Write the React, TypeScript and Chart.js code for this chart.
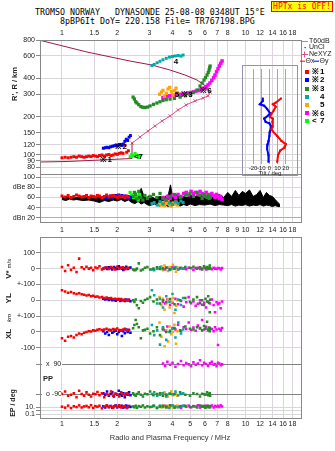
import React, { useEffect, useRef } from 'react';
import { Chart, registerables } from 'chart.js';

Chart.register(...registerables);

const FONT = "'Liberation Sans', Arial, Helvetica, sans-serif";
const MONO = "'DejaVu Sans Mono', 'Liberation Mono', monospace";

// ---------------- axes ----------------
const FREQ_MIN = 0.759;
const FREQ_MAX = 20.3;
const freqTicksTop = [1, 1.5, 2, 3, 4, 5, 6, 7, 8, 10, 12, 14, 16, 18];
const freqTicksMid = [1, 1.5, 2, 3, 4, 5, 6, 7, 8, 9, 10, 12, 14, 16, 18];
const heightTicks = [80, 90, 100, 120, 150, 200, 300, 400, 600, 800];
const dbTicks = [20, 40, 60, 80, 100];
const dbLabels = ['dBn 20', '40', '60', 'dBe 80', '100'];
const tiltTicks = [-20, -10, 0, 10, 20];

// ---------------- trace 1 (red) ----------------
const redFreq = [1.00, 1.04, 1.08, 1.12, 1.16, 1.20, 1.24, 1.28, 1.32, 1.36, 1.40, 1.44, 1.48, 1.52, 1.56, 1.60, 1.65, 1.70, 1.75, 1.80, 1.85, 1.90, 1.95, 2.00, 2.05, 2.10, 2.15, 2.20, 2.25, 2.30];
const redHeight = [95, 96, 95, 96, 97, 96, 98, 97, 96, 97, 98, 97, 99, 98, 97, 99, 100, 98, 100, 101, 99, 100, 102, 101, 103, 104, 103, 119, 105, 108];
const redDB = [63, 61, 64, 60, 62, 65, 63, 61, 62, 64, 60, 63, 62, 61, 64, 63, 60, 62, 65, 61, 63, 64, 62, 60, 63, 61, 62, 60, 63, 61];
const redV = [10, -15, 21, -8, 5, -21, 63, 8, -3, 12, 0, 5, -10, 7, 2, 15, -5, 3, 8, -2, 10, 4, -6, 12, 0, 6, 9, -4, 3, 5];
const redYL = [63, 55, 48, 52, 44, 40, 45, 38, 35, 30, 33, 26, 28, 22, 24, 18, 20, 15, 17, 12, 14, 8, 10, 6, 4, 8, 2, 5, 0, 3];
const redXL = [-40, -55, -30, -25, -35, -19, -10, -15, -5, 0, 5, 3, 10, 8, 13, 17, 12, 15, 20, 13, 10, 18, 15, 22, 12, 8, 15, 20, 10, 14];
const redPP = [-90, -75, -100, -95, -85, -110, -70, -90, -100, -80, -95, -105, -88, -92, -78, -98, -85, -110, -90, -95, -75, -100, -88, -93, -105, -80, -92, -97, -85, -90];
const redEP = [15, 8, 30, 6, 20, 12, 35, 9, 18, 25, 10, 40, 7, 22, 14, 28, 5, 16, 33, 11, 20, 8, 26, 13, 38, 9, 17, 24, 6, 19];

// ---------------- trace 2 (blue) ----------------
const blueFreq = [1.68, 1.72, 1.76, 1.80, 1.84, 1.88, 1.92, 1.96, 2.00, 2.04, 2.08, 2.12, 2.16, 2.20, 2.24, 2.28, 2.32, 2.36];
const blueHeight = [113, 114, 115, 114, 116, 117, 118, 119, 118, 120, 121, 119, 122, 128, 133, 130, 138, 142];
const blueDB = [60, 62, 59, 61, 63, 60, 62, 64, 63, 65, 62, 64, 61, 63, 60, 62, 58, 60];
const blueV = [0, 5, -3, 8, 2, -5, 10, 3, -2, 15, 6, 0, -8, 4, 12, -3, 2, 7];
const blueYL = [10, 5, 8, 2, 6, 0, 4, -3, 3, 8, -5, 2, 0, -4, 5, -2, 3, -6];
const blueXL = [5, -10, 0, -19, 12, -5, 3, 8, -15, 0, 10, -25, 5, -8, 15, 0, 12, -5];
const bluePP = [-85, -95, -75, -100, -90, -80, -105, -88, -95, -70, -92, -100, -85, -110, -90, -95, -80, -98];
const blueEP = [20, 9, 30, 12, 25, 7, 18, 35, 10, 22, 14, 28, 8, 16, 32, 11, 24, 13];

// ---------------- trace 3 (green) ----------------
const greenFreq = [2.44, 2.48, 2.52, 2.56, 2.62, 2.69, 2.76, 2.83, 2.92, 3.02, 3.15, 3.29, 3.42, 3.55, 3.70, 3.88, 4.10, 4.40, 4.70, 4.98, 5.20, 5.44, 5.65, 5.80, 5.94, 6.05, 6.17, 6.26, 6.33, 6.38, 6.41];
const greenHeight = [285, 275, 262, 256, 248, 240, 237, 236, 238, 243, 250, 256, 262, 268, 272, 275, 278, 285, 292, 301, 310, 324, 348, 368, 388, 405, 425, 445, 465, 485, 500];
const greenDB = [62, 70, 66, 58, 72, 60, 55, 64, 58, 62, 66, 60, 68, 58, 55, 62, 66, 60, 65, 68, 62, 70, 64, 58, 66, 62, 60, 65, 58, 62, 60];
const greenV = [-5, -10, -8, 0, 33, -12, -6, 5, 10, -5, 0, 8, -3, 2, 6, -4, 0, 3, 10, 5, 12, 0, 8, -6, 15, 4, 10, -2, 6, 20, 3];
const greenYL = [0, -10, 5, -32, -50, -5, -15, 2, 10, 20, -8, 5, -20, 0, -12, 8, -25, 0, 15, -10, 5, 20, -18, 0, -30, 10, -8, 25, -15, -75, 3];
const greenXL = [23, 44, 76, 50, 30, -40, 10, 13, 20, -10, 5, 30, -20, 15, 0, 8, 25, 10, 35, 20, 15, 30, 25, 10, 38, 20, 65, 15, 28, 5, 18];
const greenPP = [-85, -95, -100, -90, -80, -95, -105, -88, -92, -75, -98, -90, -85, -100, -95, -88, -92, -80, -95, -100, -85, -90, -105, -88, -92, -95, -80, -98, -90, -85, -100];
const greenEP = [18, 10, 28, 7, 22, 14, 35, 9, 20, 12, 30, 6, 16, 25, 11, 38, 8, 19, 27, 13, 21, 9, 33, 15, 24, 7, 18, 29, 12, 20, 10];

// ---------------- trace 4 (teal) ----------------
const tealFreq = [3.09, 3.18, 3.30, 3.42, 3.55, 3.70, 3.85, 4.00, 4.15, 4.30, 4.45, 4.57];
const tealHeight = [505, 515, 530, 545, 560, 575, 588, 595, 600, 605, 598, 610];
const tealDB = [48, 50, 45, 52, 47, 55, 49, 46, 51, 48, 53, 50];
const tealV = [-5, -10, 0, 8, -3, 5, -8, 2, 10, -6, 3, 0];
const tealYL = [63, 32, -20, 10, -45, 25, -10, 40, -60, 5, -30, 15];
const tealXL = [44, -20, 10, -80, 30, -50, 0, 20, -35, 60, -10, 15];
const tealPP = [-90, -80, -100, -95, -85, -105, -88, -92, -75, -98, -90, -85];
const tealEP = [14, 25, 8, 30, 12, 20, 6, 35, 16, 10, 22, 28];

// ---------------- trace 5 (orange) ----------------
const orangeFreq = [3.40, 3.48, 3.55, 3.62, 3.70, 3.78, 3.86, 3.94, 4.02, 4.10, 4.18, 4.25];
const orangeHeight = [300, 312, 322, 290, 305, 330, 340, 315, 295, 320, 335, 310];
const orangeDB = [47, 45, 50, 44, 48, 52, 46, 43, 49, 47, 51, 45];
const orangeV = [0, 15, -10, 20, 5, -15, 10, -5, 25, 0, -20, 8];
const orangeYL = [20, -30, 10, -60, -20, 5, -45, -10, 15, -80, -35, 0];
const orangeXL = [60, -30, 20, -90, 10, -60, 35, -15, 0, 45, -75, 5];
const orangePP = [-95, -85, -100, -80, -92, -105, -88, -75, -98, -90, -85, -100];
const orangeEP = [20, 10, 32, 14, 7, 26, 18, 38, 9, 24, 12, 30];

// ---------------- trace 6 (magenta) ----------------
const magFreq = [3.55, 3.65, 3.75, 3.88, 4.0, 4.15, 4.29, 4.45, 4.60, 4.75, 4.90, 5.05, 5.20, 5.35, 5.50, 5.65, 5.80, 5.95, 6.10, 6.25, 6.40, 6.55, 6.70, 6.82, 6.95, 7.08, 7.20, 7.32, 7.45];
const magHeight = [282, 287, 290, 292, 294, 296, 298, 300, 302, 304, 307, 310, 313, 316, 320, 324, 330, 336, 345, 355, 368, 385, 405, 425, 450, 475, 500, 525, 548];
const magDB = [60, 55, 62, 58, 64, 60, 66, 62, 68, 70, 65, 72, 68, 70, 66, 72, 68, 64, 70, 66, 62, 68, 64, 60, 66, 62, 58, 62, 56];
const magV = [0, -5, 5, -3, 8, 2, -6, 4, 0, -4, 6, 2, -8, 3, 5, -2, 0, 7, -5, 3, 1, -4, 6, 0, -3, 4, 2, -6, 3];
const magYL = [-10, -20, 5, -30, -15, 10, -25, -5, -40, -12, 20, -18, -8, -35, -22, 0, -28, -15, -45, -10, -20, 5, -30, -75, -12, -25, -18, -50, -8];
const magXL = [20, 10, 35, 0, 25, 15, 45, 5, 30, 18, 60, 12, 28, 8, 40, 22, 76, 15, 32, 10, 25, 18, 5, 30, 15, -82, 20, 10, 25];
const magPP = [95, 80, 105, 88, 100, 75, 92, 110, 85, 98, 90, 78, 102, 88, 95, 115, 84, 100, 92, 80, 96, 105, 88, 92, 78, 100, 95, 85, 90];
const magEP = [16, 28, 9, 22, 35, 12, 19, 7, 26, 14, 31, 10, 21, 17, 38, 8, 24, 13, 29, 11, 20, 33, 9, 25, 15, 27, 12, 36, 18];

// ---------------- trace 7 (lime) ----------------
const limeFreq = [2.35, 2.40, 2.45, 2.50, 2.55, 2.60, 2.65];
const limeHeight = [97, 101, 98, 103, 100, 96, 99];
const limeDB = [70, 65, 60, 68, 62, 55, 66];

// ---------------- noise (black) ----------------
const noiseFreq = [1.0, 1.05, 1.1, 1.15, 1.2, 1.3, 1.4, 1.5, 1.6, 1.7, 1.8, 1.9, 2.0, 2.1, 2.2, 2.3, 2.4, 2.5, 2.6, 2.7, 2.8, 2.9, 3.0, 3.2, 3.4, 3.6, 3.8, 3.9, 4.0, 4.2, 4.4, 4.6, 4.8, 5.0, 5.3, 5.6, 6.0, 6.4, 6.8, 7.2, 7.6, 8.0, 8.4, 8.8, 9.2, 9.6, 10.0, 10.5, 11.0, 11.5, 12.0, 12.5, 13.0, 13.5, 14.0, 14.5, 15.0, 15.4];
const noiseLow = [56, 54, 57, 55, 56, 54, 55, 53, 50, 54, 52, 55, 53, 56, 52, 55, 50, 48, 52, 47, 50, 46, 44, 47, 43, 46, 42, 45, 44, 47, 43, 46, 44, 47, 44, 46, 45, 47, 44, 46, 45, 44, 46, 43, 45, 44, 46, 43, 45, 44, 46, 43, 45, 44, 42, 44, 42, 42];
const noiseHigh = [60, 62, 59, 61, 60, 62, 59, 61, 60, 62, 60, 63, 61, 64, 60, 62, 66, 60, 64, 78, 62, 60, 64, 58, 62, 60, 66, 85, 62, 66, 58, 62, 60, 64, 62, 66, 60, 64, 62, 66, 60, 70, 62, 74, 64, 72, 68, 75, 62, 66, 74, 60, 70, 64, 62, 56, 50, 46];

// ---------------- profile lines ----------------
const lowLineFreq = [0.759, 1.065, 1.611, 2.407, 2.407];
const lowLineHeight = [88.1, 88.9, 91.3, 93.9, 124.2];
const neFreq = [2.41, 2.66, 2.94, 3.21, 3.51, 3.88, 4.29, 4.74, 5.31, 5.87, 6.25, 6.41, 6.17];
const neHeight = [124, 138.5, 154, 169, 185, 202.5, 226, 247, 266, 280, 291, 312, 330];
const topFreq = [6.17, 5.94, 5.44, 4.68, 3.88, 3.09, 2.35, 1.37, 0.788, 0.76];
const topHeight = [330, 355, 388, 425, 465, 509, 547, 644, 786, 795];

// ---------------- tilt inset ----------------
const thetaXHeight = [292, 270, 262, 250, 233, 219, 206, 200, 188, 172, 164, 157, 144, 131, 123.5, 116, 109.5, 100, 88.6];
const thetaX = [14.2, 7.8, 4.3, 7.8, 5.3, 2.5, 0.7, 4.3, 3.6, 4.3, 2.5, 4.3, 9.6, 14.9, 20.2, 18.5, 13.2, 10.6, 9.6];
const thetaYHeight = [292, 279, 262, 255, 240, 222, 213, 200, 188, 183, 172, 157, 144, 131, 123.5, 113, 100, 88.6];
const thetaY = [-8.1, -8.1, -11.7, -6.4, -2.8, 0.7, -1.1, -6.4, -4.6, 0, 2.5, 0.7, 0, -1.1, -2.1, -2.8, -1.1, -1.1];

// ---------------- trace labels ----------------
const annotText = ['※1', '※2', '<7', '4', '5', '※3', '※6'];
const annotFreq = [1.74, 2.10, 2.61, 4.18, 4.23, 4.80, 6.09];
const annotHeight = [91, 117, 96, 540, 296, 296, 318];

const legendSym = ['※', '※', '※', '', '', '※', '<'];
const legendNum = ['1', '2', '3', '4', '5', '6', '7'];

const RED = '#ff0000', BLUE = '#0000ff', GREEN = '#228b22', TEAL = '#00a8a8', ORANGE = '#ffa500', MAGENTA = '#ff00ff', LIME = '#00ff00';
const legendColors = [RED, BLUE, GREEN, TEAL, ORANGE, MAGENTA, LIME];
const MAROON = '#a01848';
const PINK = '#e0508a';
const GRID = '#d8d8d8';
const VGRID = '#dcd4dc';
const BORDER = '#888888';
const TICK = '#1a1a1a';

const tickFont = { family: FONT, size: 7 };

function xy(xs: number[], ys: number[]) {
  return xs.map((x, i) => ({ x, y: ys[i] }));
}

function dots(xs: number[], ys: number[], color: string, yAxisID: string, r = 1.9): any {
  return {
    type: 'scatter', data: xy(xs, ys), xAxisID: 'x', yAxisID,
    pointStyle: 'rect', pointRadius: r, pointBorderWidth: 0,
    pointBackgroundColor: color, backgroundColor: color, borderColor: color,
    showLine: false, order: 1,
  };
}

function freqAxis(position: string, ticks: number[], height: number, padding: number, grid: boolean): any {
  return {
    type: 'logarithmic', position, min: FREQ_MIN, max: FREQ_MAX,
    afterBuildTicks: (s: any) => { s.ticks = ticks.map((v) => ({ value: v })); },
    afterFit: (s: any) => { s.height = height; },
    ticks: { font: tickFont, color: TICK, padding, autoSkip: false, maxRotation: 0, minRotation: 0, callback: (v: any) => String(v) },
    grid: { display: grid, color: VGRID, drawTicks: false },
    border: { display: false },
  };
}

function yAxis(opts: any, ticks: number[], label: (v: number) => string, gridColor: any, weight: number, stackWeight: number, stack: string): any {
  return Object.assign({
    position: 'left', stack, stackWeight, weight,
    afterBuildTicks: (s: any) => { s.ticks = ticks.map((v) => ({ value: v })); },
    afterFit: (s: any) => { s.width = 40; },
    ticks: { font: tickFont, color: TICK, padding: 1, autoSkip: false, callback: (v: any) => label(Number(v)) },
    grid: { color: gridColor, tickLength: 4, tickColor: BORDER },
    border: { color: BORDER },
  }, opts);
}

function vtext(ctx: CanvasRenderingContext2D, text: string, x: number, y: number, font: string) {
  ctx.save();
  ctx.translate(x, y);
  ctx.rotate(-Math.PI / 2);
  ctx.font = font;
  ctx.textAlign = 'center';
  ctx.textBaseline = 'middle';
  ctx.fillText(text, 0, 0);
  ctx.restore();
}

const OFF_A = 26;
const OFF_B = 232;

const pluginA = {
  id: 'panelA',
  afterDraw(chart: any) {
    const ctx: CanvasRenderingContext2D = chart.ctx;
    const { left, right } = chart.chartArea;
    ctx.save();
    ctx.strokeStyle = BORDER;
    ctx.lineWidth = 1;
    ['yH', 'yDB'].forEach((id) => {
      const s = chart.scales[id];
      ctx.strokeRect(Math.round(left) + 0.5, Math.round(s.top) + 0.5, Math.round(right - left) - 1, Math.round(s.bottom - s.top));
    });
    // annotations
    const xs = chart.scales.x, yh = chart.scales.yH;
    ctx.fillStyle = '#000';
    ctx.font = `bold 8px ${FONT}`;
    ctx.textAlign = 'center';
    ctx.textBaseline = 'middle';
    annotText.forEach((t, i) => {
      ctx.fillText(t, xs.getPixelForValue(annotFreq[i]), yh.getPixelForValue(annotHeight[i]));
    });
    // y title
    ctx.fillStyle = '#222';
    vtext(ctx, "R', R / km", 15, 84 - OFF_A, `bold 7.5px ${FONT}`);
    // legend
    ctx.textAlign = 'left';
    ctx.textBaseline = 'middle';
    ctx.font = `7px ${FONT}`;
    ctx.fillStyle = '#222';
    let y = 41 - OFF_A;
    ctx.strokeStyle = '#999';
    ctx.beginPath(); ctx.moveTo(302, y + 0.5); ctx.lineTo(308, y + 0.5); ctx.stroke();
    ctx.fillText('T60dB', 309, y);
    y = 47.5 - OFF_A;
    ctx.fillRect(304.5, y - 0.5, 1.2, 1.2);
    ctx.fillText('UnCl', 309, y);
    y = 54 - OFF_A;
    ctx.strokeStyle = PINK;
    ctx.beginPath(); ctx.moveTo(301, y + 0.5); ctx.lineTo(308, y + 0.5); ctx.moveTo(304.5, y - 2.5); ctx.lineTo(304.5, y + 3.5); ctx.stroke();
    ctx.fillText('NeXYZ', 309, y);
    y = 60.7 - OFF_A;
    ctx.strokeStyle = RED;
    ctx.beginPath(); ctx.moveTo(300, y + 0.5); ctx.lineTo(305, y + 0.5); ctx.stroke();
    ctx.fillText('Θx', 305.5, y);
    ctx.strokeStyle = BLUE;
    ctx.beginPath(); ctx.moveTo(314, y + 0.5); ctx.lineTo(319, y + 0.5); ctx.stroke();
    ctx.fillText('Θy', 319.5, y);
    const ly = [71.7, 80, 88.5, 97, 105, 113.3, 121];
    ctx.font = `bold 8px ${FONT}`;
    ly.forEach((py, i) => {
      const yy = py - OFF_A;
      ctx.fillStyle = legendColors[i];
      ctx.fillRect(305, Math.round(yy) - 2, 4, 4);
      ctx.fillStyle = '#000';
      if (legendSym[i]) ctx.fillText(legendSym[i], 312, yy);
      ctx.fillText(legendNum[i], 320, yy);
    });
    ctx.restore();
  },
};

const pluginB = {
  id: 'panelB',
  afterDraw(chart: any) {
    const ctx: CanvasRenderingContext2D = chart.ctx;
    const { left, right, top, bottom } = chart.chartArea;
    ctx.save();
    ctx.strokeStyle = BORDER;
    ctx.lineWidth = 1;
    ctx.strokeRect(Math.round(left) + 0.5, Math.round(top) + 0.5, Math.round(right - left) - 1, Math.round(bottom - top));
    const pp = chart.scales.yPP;
    const yl = chart.scales.yYL;
    const xl = chart.scales.yXL;
    const vv = chart.scales.yV;
    // inside labels for PP
    ctx.font = `7px ${FONT}`;
    ctx.textBaseline = 'middle';
    ctx.textAlign = 'left';
    const y90 = pp.getPixelForValue(90);
    const ym90 = pp.getPixelForValue(-90);
    ctx.fillStyle = '#fff';
    ctx.fillRect(42, y90 - 4, 20, 8);
    ctx.fillRect(42, ym90 - 4, 20, 8);
    ctx.fillStyle = '#222';
    ctx.fillText('x  90', 46, y90);
    ctx.fillText('o -90', 46, ym90);
    ctx.font = `bold 7.5px ${FONT}`;
    ctx.fillText('PP', 43, pp.getPixelForValue(0));
    // left titles
    vtext(ctx, 'V*', 9, vv.getPixelForValue(0) + 6, `bold 8px ${FONT}`);
    vtext(ctx, 'm/s', 9, vv.getPixelForValue(0) - 5, `6px ${FONT}`);
    vtext(ctx, 'YL', 9, yl.getPixelForValue(0) - 2, `bold 8px ${FONT}`);
    vtext(ctx, 'km', 9, yl.getPixelForValue(-100) + 2, `italic 6px ${FONT}`);
    vtext(ctx, 'XL', 9, xl.getPixelForValue(0) + 2, `bold 8px ${FONT}`);
    vtext(ctx, 'EP / deg', 13, 403 - OFF_B, `bold 7px ${FONT}`);
    // x title
    ctx.font = `7.5px ${FONT}`;
    ctx.textAlign = 'center';
    ctx.fillStyle = '#333';
    ctx.fillText('Radio and Plasma Frequency / MHz', 170, 438 - OFF_B);
    ctx.restore();
  },
};

const pluginC = {
  id: 'panelC',
  afterDraw(chart: any) {
    const ctx: CanvasRenderingContext2D = chart.ctx;
    ctx.save();
    ctx.strokeStyle = '#9890b0';
    ctx.lineWidth = 1;
    ctx.strokeRect(0.5, 0.5, 55, 110);
    ctx.fillStyle = '#222';
    ctx.font = `6px ${FONT}`;
    ctx.textAlign = 'center';
    ctx.textBaseline = 'middle';
    ctx.fillText('Tilt / deg', 28, 108.5);
    ctx.restore();
  },
};

const baseOpts = {
  animation: false,
  responsive: false,
  devicePixelRatio: 1,
  events: [],
  plugins: { legend: { display: false }, tooltip: { enabled: false } },
};

function configA(): any {
  const datasets: any[] = [
    { type: 'line', data: xy(noiseFreq, noiseHigh), xAxisID: 'x', yAxisID: 'yDB', borderColor: '#000', backgroundColor: '#000', borderWidth: 1, pointRadius: 0, fill: '+1', order: 10 },
    { type: 'line', data: xy(noiseFreq, noiseLow), xAxisID: 'x', yAxisID: 'yDB', borderColor: '#000', backgroundColor: '#000', borderWidth: 1, pointRadius: 0, fill: false, order: 10 },
    { type: 'line', data: xy(lowLineFreq, lowLineHeight), xAxisID: 'x', yAxisID: 'yH', borderColor: MAROON, borderWidth: 1, pointRadius: 0, fill: false, order: 5 },
    { type: 'line', data: xy(topFreq, topHeight), xAxisID: 'x', yAxisID: 'yH', borderColor: MAROON, borderWidth: 1, pointRadius: 0, fill: false, order: 5 },
    { type: 'line', data: xy(neFreq, neHeight), xAxisID: 'x', yAxisID: 'yH', borderColor: PINK, borderWidth: 1, pointStyle: 'crossRot', pointRadius: 2.2, pointBorderColor: PINK, pointBorderWidth: 1, fill: false, order: 5 },
    dots(redFreq, redHeight, RED, 'yH', 2.1),
    dots(blueFreq, blueHeight, BLUE, 'yH', 2.1),
    dots(greenFreq, greenHeight, GREEN, 'yH', 2.3),
    dots(tealFreq, tealHeight, TEAL, 'yH', 2.1),
    dots(orangeFreq, orangeHeight, ORANGE, 'yH', 2.3),
    dots(magFreq, magHeight, MAGENTA, 'yH', 2.5),
    dots(limeFreq, limeHeight, LIME, 'yH', 2.1),
    dots(redFreq, redDB, RED, 'yDB', 2.1),
    dots(blueFreq, blueDB, BLUE, 'yDB', 2.1),
    dots(greenFreq, greenDB, GREEN, 'yDB', 2.3),
    dots(tealFreq, tealDB, TEAL, 'yDB', 2.1),
    dots(orangeFreq, orangeDB, ORANGE, 'yDB', 2.3),
    dots(magFreq, magDB, MAGENTA, 'yDB', 2.5),
    dots(limeFreq, limeDB, LIME, 'yDB', 2.3),
  ];
  return {
    type: 'scatter',
    data: { datasets },
    options: {
      ...baseOpts,
      layout: { padding: { left: 0, right: 33, top: 0, bottom: 0 } },
      scales: {
        xTop: freqAxis('top', freqTicksTop, 14, 3, true),
        x: freqAxis('bottom', freqTicksMid, 14, 4, false),
        yH: yAxis({ type: 'logarithmic', min: 70.9, max: 800.6 }, heightTicks, (v) => String(v), GRID, 2, 134, 'a'),
        yDB: yAxis({ type: 'linear', min: 11.5, max: 106.5 }, dbTicks,
          (v) => dbLabels[dbTicks.indexOf(v)] ?? '',
          (c: any) => (c.tick && c.tick.value === 20 ? '#a8a8f0' : GRID), 1, 48, 'a'),
      },
    },
    plugins: [pluginA],
  };
}

function configB(): any {
  const traces: [number[], string, number[], number[], number[], number[], number[]][] = [
    [redFreq, RED, redV, redYL, redXL, redPP, redEP],
    [blueFreq, BLUE, blueV, blueYL, blueXL, bluePP, blueEP],
    [greenFreq, GREEN, greenV, greenYL, greenXL, greenPP, greenEP],
    [tealFreq, TEAL, tealV, tealYL, tealXL, tealPP, tealEP],
    [orangeFreq, ORANGE, orangeV, orangeYL, orangeXL, orangePP, orangeEP],
    [magFreq, MAGENTA, magV, magYL, magXL, magPP, magEP],
  ];
  const datasets: any[] = [];
  traces.forEach(([f, c, v, yl, xl, pp, ep]) => {
    datasets.push(dots(f, v, c, 'yV', 1.8));
    datasets.push(dots(f, yl, c, 'yYL', 1.8));
    datasets.push(dots(f, xl, c, 'yXL', 1.8));
    datasets.push(dots(f, pp, c, 'yPP', 1.8));
    datasets.push(dots(f, ep, c, 'yEP', 1.8));
  });
  return {
    type: 'scatter',
    data: { datasets },
    options: {
      ...baseOpts,
      layout: { padding: { left: 0, right: 33, top: 5, bottom: 0 } },
      scales: {
        x: freqAxis('bottom', freqTicksTop, 33, 2, true),
        yV: yAxis({ type: 'linear', min: -100, max: 198.4 }, [100, 0, -100], (v) => (v === -100 ? '+-100' : String(v)), GRID, 5, 47.3, 'b'),
        yYL: yAxis({ type: 'linear', min: -100, max: 100 }, [100, 0, -100], (v) => (v === 0 ? '0' : v === -100 ? '+-100' : ''), GRID, 4, 31.7, 'b'),
        yXL: yAxis({ type: 'linear', min: -100, max: 100 }, [100, 0, -100], (v) => (v === 0 ? '0' : v === -100 ? '-100' : ''), GRID, 3, 31.7, 'b'),
        yPP: Object.assign(yAxis({ type: 'linear', min: -126.4, max: 190.6 }, [90, -90], () => '', '#808080', 2, 52.3, 'b'), {}),
        yEP: yAxis({ type: 'logarithmic', min: 0.00877, max: 1219 }, [10, 1, 0.1],
          (v) => (Math.abs(v - 10) < 1e-6 ? '10.' : Math.abs(v - 0.1) < 1e-6 ? '0.1' : ''), GRID, 1, 18, 'b'),
      },
    },
    plugins: [pluginB],
  };
}

function configC(): any {
  return {
    type: 'scatter',
    data: {
      datasets: [
        { data: xy(thetaX, thetaXHeight), showLine: true, borderColor: RED, borderWidth: 2, pointStyle: 'rect', pointRadius: 1.4, pointBackgroundColor: RED, pointBorderWidth: 0 },
        { data: xy(thetaY, thetaYHeight), showLine: true, borderColor: BLUE, borderWidth: 2, pointStyle: 'rect', pointRadius: 1.4, pointBackgroundColor: BLUE, pointBorderWidth: 0 },
      ],
    },
    options: {
      ...baseOpts,
      layout: { padding: 0 },
      scales: {
        x: {
          type: 'linear', position: 'bottom', min: -28.7, max: 30.2,
          afterBuildTicks: (s: any) => { s.ticks = tiltTicks.map((v) => ({ value: v })); },
          afterFit: (s: any) => { s.height = 13; },
          ticks: { font: { family: FONT, size: 6 }, color: TICK, padding: 1, autoSkip: false, maxRotation: 0 },
          grid: { color: '#a8a0c0', drawTicks: false },
          border: { display: false },
        },
        y: { type: 'logarithmic', min: 85, max: 509.4, display: false },
      },
    },
    plugins: [pluginC],
  };
}

export default function App() {
  const refA = useRef<HTMLCanvasElement>(null);
  const refB = useRef<HTMLCanvasElement>(null);
  const refC = useRef<HTMLCanvasElement>(null);
  useEffect(() => {
    Chart.defaults.font.family = FONT;
    const a = new Chart(refA.current as HTMLCanvasElement, configA());
    const b = new Chart(refB.current as HTMLCanvasElement, configB());
    const c = new Chart(refC.current as HTMLCanvasElement, configC());
    return () => { a.destroy(); b.destroy(); c.destroy(); };
  }, []);
  return (
    <div style={{ position: 'absolute', left: 0, top: 0, width: 335, height: 451, background: '#fff', overflow: 'hidden' }}>
      <div style={{ position: 'absolute', left: 35, top: 7, font: `8.3px ${MONO}`, lineHeight: '10px', whiteSpace: 'pre', color: '#000' }}>
        {'TROMSO NORWAY   DYNASONDE 25-08-08 0348UT 15°E'}
      </div>
      <div style={{ position: 'absolute', left: 60, top: 15.5, font: `8.3px ${MONO}`, lineHeight: '10px', whiteSpace: 'pre', color: '#000' }}>
        {'8pBP6It DoY= 220.158 File= TR767198.BPG'}
      </div>
      <div style={{ position: 'absolute', left: 271, top: 1, width: 62, height: 11, boxSizing: 'border-box', border: '1px solid #ff0000', background: '#ffff00', color: '#ff0000', font: `8px ${MONO}`, lineHeight: '9px', textAlign: 'center', whiteSpace: 'pre' }}>
        {'HPTx is OFF!'}
      </div>
      <canvas ref={refA} width={335} height={210} style={{ position: 'absolute', left: 0, top: 26 }} />
      <canvas ref={refB} width={335} height={219} style={{ position: 'absolute', left: 0, top: 232 }} />
      <canvas ref={refC} width={56} height={112} style={{ position: 'absolute', left: 242, top: 65 }} />
    </div>
  );
}
